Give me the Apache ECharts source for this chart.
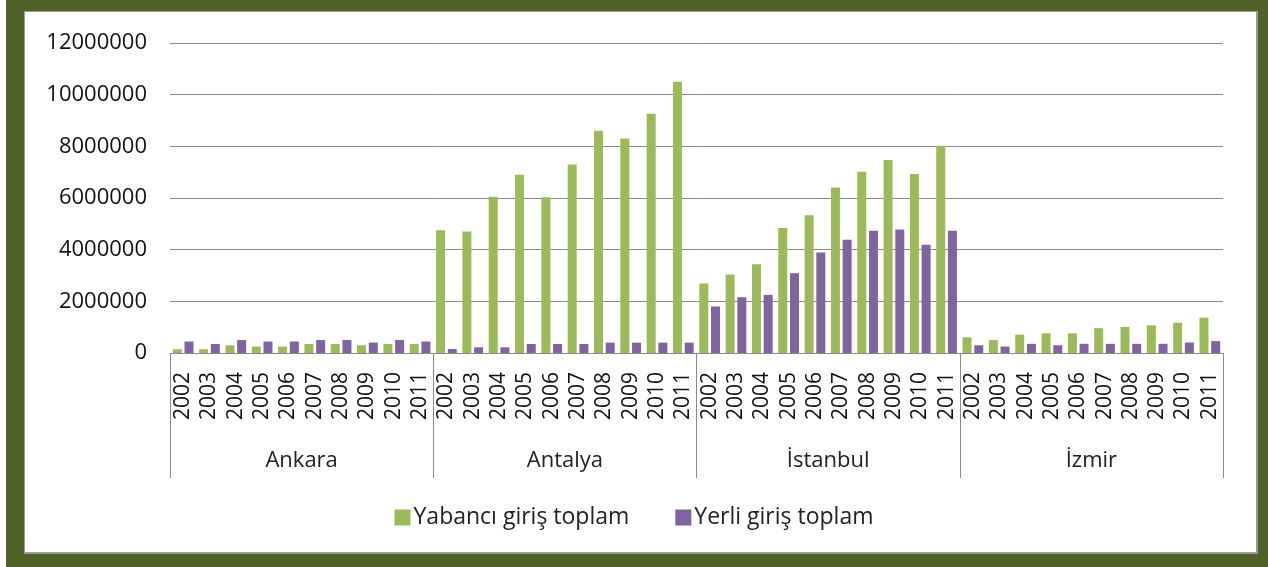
<!DOCTYPE html>
<html>
<head>
<meta charset="utf-8">
<script src="https://cdn.jsdelivr.net/npm/echarts@6/dist/echarts.min.js"></script>
<style>
  body { margin: 0; background: #fff; }
  #frame { position: absolute; left: 6px; top: 0; width: 1262px; height: 567px; background: #4f6228; }
  #panel { position: absolute; left: 18px; top: 11px; width: 1231px; height: 540px; background: #fff;
           border: 1px solid #9a9a9a; border-right-width: 2px; border-bottom-width: 2px; }
  #chart { position: absolute; left: 0; top: 0; width: 1268px; height: 567px; }
</style>
</head>
<body>
<div id="frame"><div id="panel"></div></div>
<div id="chart"></div>
<script>
// iller ve yillar
var cities = ['Ankara', 'Antalya', 'İstanbul', 'İzmir'];
var years = ['2002', '2003', '2004', '2005', '2006', '2007', '2008', '2009', '2010', '2011'];
var yTicks = [0, 2000000, 4000000, 6000000, 8000000, 10000000, 12000000];

// Yabanci giris toplam (resimden okunan tahmini degerler)
var yabanciAnkara   = [145000, 145000, 300000, 250000, 250000, 350000, 350000, 300000, 350000, 350000];
var yabanciAntalya  = [4750000, 4700000, 6050000, 6900000, 6030000, 7300000, 8600000, 8300000, 9260000, 10500000];
var yabanciIstanbul = [2690000, 3040000, 3440000, 4840000, 5330000, 6410000, 7020000, 7470000, 6930000, 8020000];
var yabanciIzmir    = [605000, 500000, 710000, 763000, 763000, 960000, 1010000, 1070000, 1170000, 1370000];

// Yerli giris toplam
var yerliAnkara   = [445000, 350000, 500000, 445000, 445000, 500000, 500000, 405000, 500000, 445000];
var yerliAntalya  = [156000, 220000, 220000, 350000, 350000, 350000, 400000, 400000, 400000, 400000];
var yerliIstanbul = [1800000, 2160000, 2250000, 3090000, 3890000, 4380000, 4730000, 4780000, 4190000, 4730000];
var yerliIzmir    = [300000, 250000, 355000, 300000, 355000, 355000, 355000, 355000, 408000, 460000];

var FONT = 'Open Sans';

// 40 kategori: "sehir|yil"
var categories = [];
cities.forEach(function (c) {
    years.forEach(function (y) { categories.push(c + '|' + y); });
});
var yabanci = yabanciAnkara.concat(yabanciAntalya, yabanciIstanbul, yabanciIzmir);
var yerli = yerliAnkara.concat(yerliAntalya, yerliIstanbul, yerliIzmir);

var myChart = echarts.init(document.getElementById('chart'), null, { renderer: 'canvas' });

var option = {
    animation: false,
    backgroundColor: 'transparent',
    textStyle: { fontFamily: FONT },
    grid: { left: 170, right: 45, top: 43, bottom: 214 },
    legend: {
        data: ['Yabancı giriş toplam', 'Yerli giriş toplam'],
        top: 501,
        left: 'center',
        itemWidth: 16,
        itemHeight: 16,
        itemGap: 46,
        icon: 'rect',
        textStyle: { fontFamily: FONT, fontSize: 23, color: '#222', padding: [0, 0, 0, -2] }
    },
    xAxis: [
        {
            type: 'category',
            data: categories,
            axisLine: { lineStyle: { color: '#8a8a8a', width: 1 } },
            axisTick: { show: false },
            axisLabel: {
                interval: 0,
                rotate: 90,
                margin: 19,
                fontSize: 21,
                color: '#111',
                formatter: function (v) { return v.split('|')[1]; }
            }
        },
        {
            type: 'category',
            data: cities,
            position: 'bottom',
            axisLine: { show: false },
            axisTick: { show: true, length: 125, interval: 0, lineStyle: { color: '#8a8a8a', width: 1 } },
            axisLabel: { interval: 0, margin: 97, fontSize: 22, color: '#222' },
            splitLine: { show: false }
        }
    ],
    yAxis: {
        type: 'value',
        min: yTicks[0],
        max: yTicks[yTicks.length - 1],
        interval: 2000000,
        axisLine: { show: false },
        axisTick: { show: false },
        axisLabel: {
            margin: 23,
            fontSize: 22,
            color: '#111',
            formatter: function (v) { return String(v); }
        },
        splitLine: { lineStyle: { color: '#8a8a8a', width: 1 } }
    },
    series: [
        {
            name: 'Yabancı giriş toplam',
            type: 'bar',
            xAxisIndex: 0,
            data: yabanci,
            barWidth: 9,
            barGap: '30%',
            itemStyle: { color: '#9bbb59' }
        },
        {
            name: 'Yerli giriş toplam',
            type: 'bar',
            xAxisIndex: 0,
            data: yerli,
            barWidth: 9,
            barGap: '30%',
            itemStyle: { color: '#8064a2' }
        }
    ]
};

myChart.setOption(option);
</script>
</body>
</html>
